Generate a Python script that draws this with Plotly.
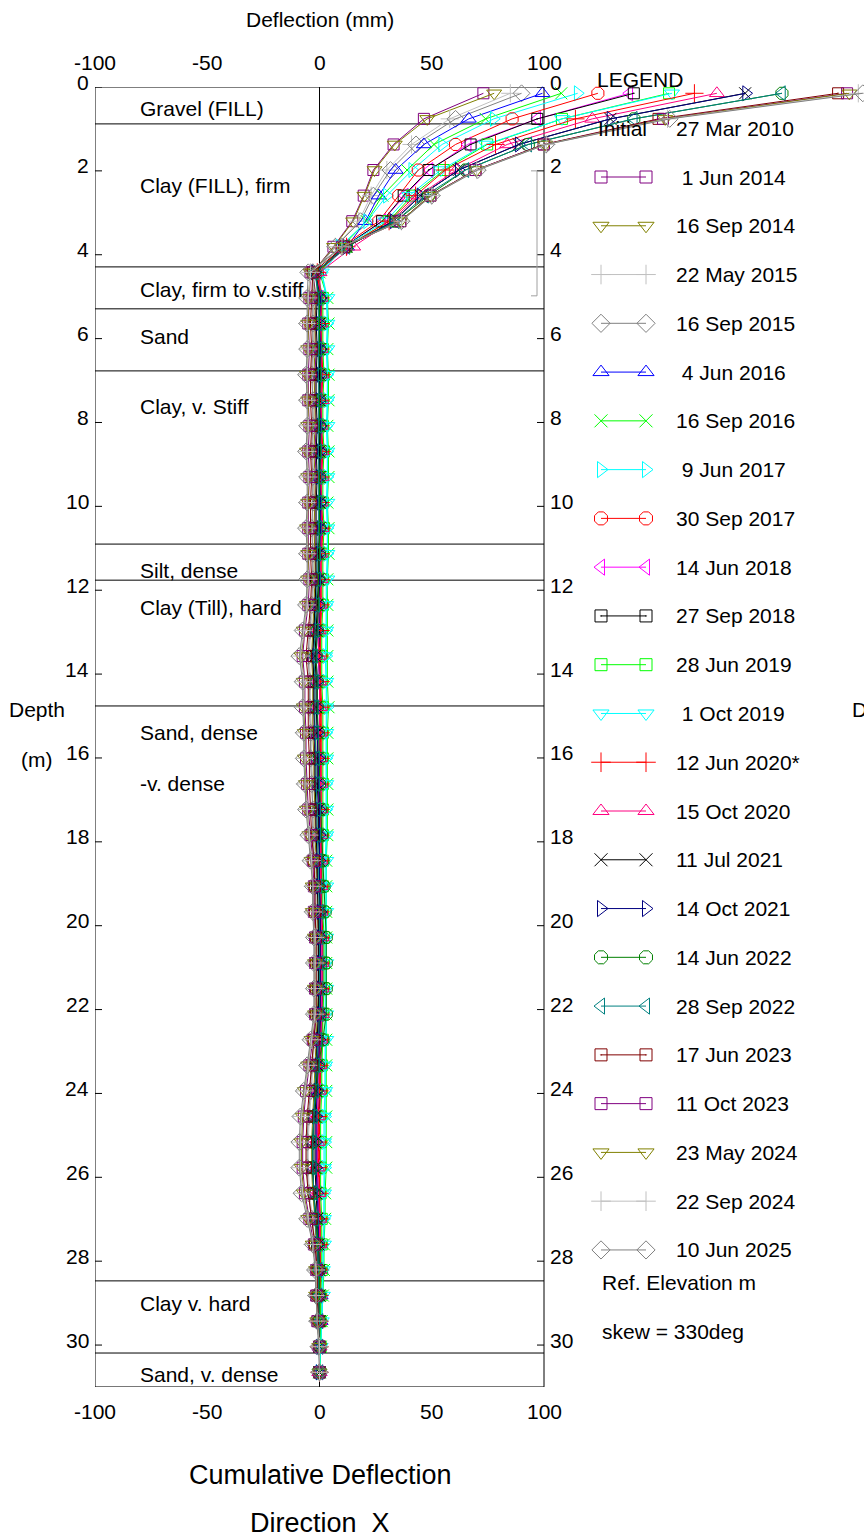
import plotly.graph_objects as go

# ---------------------------------------------------------------- data
depth_m = [0.15, 0.76, 1.37, 1.98, 2.59, 3.20, 3.81, 4.42, 5.03, 5.64,
           6.25, 6.86, 7.47, 8.08, 8.69, 9.30, 9.91, 10.52, 11.13, 11.74,
           12.35, 12.96, 13.57, 14.18, 14.79, 15.40, 16.01, 16.62, 17.23, 17.84,
           18.45, 19.06, 19.67, 20.28, 20.89, 21.50, 22.11, 22.72, 23.33, 23.94,
           24.55, 25.16, 25.77, 26.38, 26.99, 27.60, 28.21, 28.82, 29.43, 30.04,
           30.65]

d_2014_06_01 = [73, 46.5, 33, 24, 19.7, 14.6, 6.2, -3,
                -1.5, -2, -1.5, -2, -2, -1.5, -2, -1.5, -2, -2, -2, -1.5, -2, -2.5, -3,
                -2.5, -2.5, -2.5, -2, -2, -2, -1.5, -1, -1, -1, -0.5, -0.5, -0.5, -0.5, -1,
                -1.5, -2, -2.5, -3, -3, -2.5, -2, -1, -0.5, -0.5, 0, 0, 0]
d_2014_09_16 = [77.8, 48, 33.5, 24.5, 20, 15, 6.5, -3,
                -2, -2, -2, -2.5, -2, -2, -2.5, -2, -2, -2.5, -2, -2, -2.5, -3, -3.5,
                -3, -3, -3, -2.5, -2.5, -2, -2, -1.5, -1, -1, -1, -0.5, -0.5, -1, -1.5,
                -2, -2.5, -3, -3.5, -3.5, -3, -2, -1.5, -1, -0.5, -0.5, 0, 0]
d_2015_05_22 = [85, 58, 41, 30, 23, 17.5, 7, -3,
                -2.5, -3, -2.5, -3, -3, -2.5, -3, -2.5, -3, -3, -3, -2.5, -3, -4, -4.5,
                -4, -4, -3.5, -3.5, -3, -3, -2.5, -2, -1.5, -1.5, -1, -1, -1, -1.5, -2,
                -3, -3.5, -4.5, -5, -5, -4.5, -3, -2, -1, -1, -0.5, 0, 0]
d_2015_09_16 = [90, 60.6, 43, 31.6, 24, 18.3, 7.1, -3,
                -3, -3, -3, -3.5, -3, -3, -3.5, -3, -3, -3.5, -3, -3, -3.5, -4.5, -5,
                -4.5, -4.5, -4, -4, -3.5, -3, -3, -2.5, -2, -2, -1.5, -1.5, -1.5, -1.5, -2.5,
                -3.5, -4, -5, -5.5, -5.5, -5, -3.5, -2, -1, -1, -0.5, 0, 0]
d_2016_06_04 = [99.3, 66.5, 46.5, 33.9, 26.4, 20.5, 12.3, -1,
                1, 0.5, 1, 1, 0.5, 1, 1, 0.5, 1, 1, 0.5, 0.5, 0.5, 0, -0.5,
                0, 0, 0, 0.5, 0.5, 0.5, 1, 1, 1, 1, 1.5, 1.5, 1.5, 1, 1,
                0.5, 0, -0.5, -1, -1, -0.5, 0, 0, 0.5, 0.5, 0.5, 0, 0]
d_2016_09_16 = [107.7, 74, 51, 39, 28, 21, 10, 0,
                3.5, 4, 3.5, 4, 4, 3.5, 4, 4, 3.5, 4, 4, 3.5, 3.5, 3.5, 3.5,
                3.5, 4, 3.5, 3.5, 3.5, 3.5, 3.5, 3, 3, 3, 3, 3, 3, 3, 3,
                3, 3, 3, 3, 3, 2.5, 2.5, 2, 2, 1.5, 1, 0.5, 0]
d_2017_06_09 = [115, 77.6, 54.6, 41.3, 30, 21.2, 9, 1,
                3, 3.5, 3, 3.5, 3.5, 3, 3.5, 3.5, 3, 3.5, 3.5, 3, 3, 3, 3,
                3, 3.5, 3, 3, 3, 3, 3, 2.5, 2.5, 2.5, 2.5, 2.5, 2.5, 2.5, 2.5,
                2.5, 2.5, 2.5, 2.5, 2.5, 2, 2, 1.5, 1.5, 1, 1, 0.5, 0]
d_2017_09_30 = [124, 85.8, 60.6, 44, 35.3, 26.4, 10, -1,
                1, 1, 1, 1.5, 1, 1, 1.5, 1, 1, 1.5, 1, 1, 1, 0.5, 0.5,
                0.5, 1, 1, 1, 1, 1, 1, 1, 1, 1, 1.5, 1.5, 1.5, 1.5, 1,
                0.5, 0.5, 0, 0, 0, 0, 0.5, 0.5, 0.5, 0.5, 0.5, 0, 0]
d_2018_06_14 = [138, 97, 66, 49, 38, 28, 11, -1,
                0, 0, 0, 0.5, 0, 0, 0.5, 0, 0, 0, 0, -0.5, -0.5, -1, -1.5,
                -1, -1, -1, -0.5, -0.5, -0.5, 0, 0, 0, 0.5, 0.5, 0.5, 0.5, 0.5, 0,
                -0.5, -1, -1.5, -1.5, -1.5, -1, -0.5, 0, 0, 0, 0, 0, 0]
d_2018_09_27 = [140, 97, 67.3, 48.6, 37.5, 27.9, 11, -1,
                -1, -1.5, -1, -1.5, -1.5, -1, -1.5, -1, -1.5, -1.5, -1.5, -1.5, -2, -2.5, -3,
                -2.5, -2.5, -2, -2, -2, -1.5, -1.5, -1, -1, -0.5, -0.5, -0.5, -0.5, -0.5, -1,
                -1.5, -2, -2.5, -3, -3, -2.5, -1.5, -1, -0.5, -0.5, 0, 0, 0]
d_2019_06_28 = [155.7, 108, 74.7, 55.4, 41.3, 30.8, 12, -1,
                1.5, 1.5, 1.5, 2, 1.5, 1.5, 2, 1.5, 1.5, 2, 1.5, 1.5, 1.5, 1, 1,
                1, 1.5, 1.5, 1.5, 1.5, 1.5, 1.5, 1.5, 1.5, 1.5, 2, 2, 2, 1.5, 1.5,
                1, 1, 0.5, 0.5, 0.5, 0.5, 1, 1, 1, 0.5, 0.5, 0.5, 0]
d_2019_10_01 = [157, 108, 74, 54, 40, 29.5, 11, 1,
                3.5, 3.5, 3.5, 3.5, 3.5, 3.5, 3.5, 3.5, 3.5, 3.5, 3.5, 3.5, 3, 3, 2.5,
                3, 3, 3, 3, 3, 3, 3, 3, 3, 3, 3, 3, 3, 3, 3,
                2.5, 2.5, 2, 2, 2, 2, 2, 2, 1.5, 1.5, 1, 0.5, 0]
d_2020_06_12 = [167, 114, 78.4, 56, 42.8, 31, 12, -1,
                0.5, 0.5, 0.5, 1, 0.5, 0.5, 1, 0.5, 0.5, 1, 0.5, 0.5, 0.5, 0.5, 0,
                0.5, 0.5, 0.5, 0.5, 0.5, 0.5, 0.5, 0.5, 0.5, 0.5, 0.5, 0.5, 0.5, 0.5, 0.5,
                0, 0, -0.5, -0.5, -0.5, 0, 0, 0, 0, 0, 0, 0, 0]
d_2020_10_15 = [177, 121.5, 83.6, 61, 44, 32, 15, 0,
                0.5, 0.5, 0.5, 1, 1, 0.5, 1, 1, 0.5, 1, 0.5, 0.5, 0, -0.5, -0.5,
                0, 0, 0, 0, 0.5, 0.5, 0.5, 0.5, 0.5, 0.5, 1, 1, 1, 1, 0.5,
                0, -0.5, -1, -1, -1, -0.5, 0, 0, 0, 0, 0, 0, 0]
d_2021_07_11 = [189.6, 129.6, 88.8, 62, 45, 33, 12, -2,
                0, 0, 0, 0, 0, 0, 0, 0, 0, 0, -0.5, -0.5, -1, -1.5, -2,
                -1.5, -1.5, -1, -1, -1, -0.5, -0.5, 0, 0, 0, 0, 0, 0, 0, -0.5,
                -1, -1.5, -2, -2, -2, -1.5, -1, -0.5, 0, 0, 0, 0, 0]
d_2021_10_14 = [190, 129.6, 88.8, 62, 45, 33, 12, -2,
                0.5, 0, 0.5, 0.5, 0, 0.5, 0.5, 0, 0.5, 0.5, 0, 0, -0.5, -1, -1.5,
                -1, -1, -1, -0.5, -0.5, 0, 0, 0, 0, 0.5, 0.5, 0.5, 0.5, 0.5, 0,
                -0.5, -1, -1.5, -1.5, -1.5, -1, -0.5, -0.5, 0, 0, 0, 0, 0]
d_2022_06_14 = [206, 140, 93, 65, 48.6, 33.9, 12, -2,
                0, 0, 0, 0.5, 0, 0, 0.5, 0, 0, 0, 0, -0.5, -0.5, -1, -1.5,
                -1, -1, -0.5, 0, 0, 0.5, 1, 1.5, 2, 2.5, 3, 3, 3, 3, 1.5,
                -0.5, -1.5, -2.5, -3, -3, -2.5, -1.5, -0.5, 0, 0, 0, 0, 0]
d_2022_09_28 = [206, 140, 93, 65, 47, 34, 12, -2,
                -0.5, -0.5, -0.5, -0.5, -0.5, -0.5, -0.5, -0.5, -0.5, -0.5, -1, -1, -1.5, -2, -2.5,
                -2, -2, -2, -1.5, -1.5, -1, -1, -0.5, -0.5, 0, 0, 0, 0, 0, -0.5,
                -1.5, -2, -2.5, -3, -3, -2.5, -2, -1, -0.5, -0.5, 0, 0, 0]
d_2023_06_17 = [231, 151, 99.8, 69.5, 49.4, 36, 11, -3,
                -3.5, -4, -3.5, -4, -4, -3.5, -4, -3.5, -4, -4, -4, -3.5, -4, -5, -6,
                -5, -5, -5, -4.5, -4.5, -4, -3.5, -2.5, -2, -2, -1.5, -1.5, -1.5, -1.5, -2.5,
                -3.5, -4.5, -5.5, -6, -6, -5, -3.5, -2, -1, -1, -0.5, 0, 0]
d_2023_10_11 = [235, 153, 100, 69.5, 49.4, 36, 10, -4,
                -4.5, -5, -4.5, -5, -5, -4.5, -5, -4.5, -5, -5, -5, -4.5, -5, -6.5, -7.5,
                -6.5, -6.5, -6, -6, -5.5, -5, -4, -3, -2.5, -2.5, -2, -2, -2, -2, -3,
                -4.5, -6, -7, -7.5, -7.5, -6.5, -4.5, -2.5, -1.5, -1.5, -1, 0, 0]
d_2024_05_23 = [236, 154, 100.5, 70, 49.5, 36, 10, -4,
                -5, -5, -5, -5.5, -5, -5, -5.5, -5, -5, -5.5, -5, -5, -5.5, -7, -8,
                -7, -7, -6.5, -6.5, -6, -5.5, -4.5, -3.5, -3, -3, -2, -2, -2, -2, -3.5,
                -5, -6.5, -7.5, -8, -8, -7, -5, -3, -1.5, -1.5, -1, 0, 0]
d_2024_09_22 = [240, 155, 101, 70, 50, 36.5, 10, -4,
                -5, -5.5, -5, -5.5, -5.5, -5, -5.5, -5, -5.5, -5.5, -5.5, -5, -5.5, -7, -8.5,
                -7, -7, -7, -6.5, -6.5, -5.5, -4.5, -3.5, -3, -3, -2, -2, -2, -2, -3.5,
                -5, -6.5, -8, -8.5, -8.5, -7.5, -5, -3, -1.5, -1.5, -1, 0, 0]
d_2025_06_10 = [242, 156, 101, 70.5, 50, 36.5, 10, -5,
                -5.5, -5.5, -5.5, -6, -5.5, -5.5, -6, -5.5, -5.5, -6, -5.5, -5.5, -6, -7.5, -9,
                -7.5, -7.5, -7, -7, -6.5, -6, -5, -4, -3, -3, -2.5, -2.5, -2.5, -2.5, -4,
                -5.5, -7, -8.5, -9, -9, -8, -5.5, -3, -2, -1.5, -1, -0.5, 0]

series_labels = ["\u00a01 Jun 2014", "16 Sep 2014", "22 May 2015", "16 Sep 2015",
                 "\u00a04 Jun 2016", "16 Sep 2016", "\u00a09 Jun 2017", "30 Sep 2017",
                 "14 Jun 2018", "27 Sep 2018", "28 Jun 2019", "\u00a01 Oct 2019",
                 "12 Jun 2020*", "15 Oct 2020", "11 Jul 2021", "14 Oct 2021",
                 "14 Jun 2022", "28 Sep 2022", "17 Jun 2023", "11 Oct 2023",
                 "23 May 2024", "22 Sep 2024", "10 Jun 2025"]
series_values = [d_2014_06_01, d_2014_09_16, d_2015_05_22, d_2015_09_16,
                 d_2016_06_04, d_2016_09_16, d_2017_06_09, d_2017_09_30,
                 d_2018_06_14, d_2018_09_27, d_2019_06_28, d_2019_10_01,
                 d_2020_06_12, d_2020_10_15, d_2021_07_11, d_2021_10_14,
                 d_2022_06_14, d_2022_09_28, d_2023_06_17, d_2023_10_11,
                 d_2024_05_23, d_2024_09_22, d_2025_06_10]
series_colors = ["#800080", "#808000", "#c0c0c0", "#808080",
                 "#0000ff", "#00ff00", "#00ffff", "#ff0000",
                 "#ff00ff", "#000000", "#00ff00", "#00ffff",
                 "#ff0000", "#ff0080", "#000000", "#000080",
                 "#008000", "#008080", "#800000", "#800080",
                 "#808000", "#c0c0c0", "#808080"]
series_symbols = ["square-open", "triangle-down-open", "cross-thin-open", "diamond-open",
                  "triangle-up-open", "x-thin-open", "triangle-right-open", "octagon-open",
                  "triangle-left-open", "square-open-dot", "square-open", "triangle-down-open",
                  "cross-thin-open", "triangle-up-open", "x-thin-open", "triangle-right-open",
                  "octagon-open", "triangle-left-open", "square-open-dot", "square-open",
                  "triangle-down-open", "cross-thin-open", "diamond-open"]
symbol_sizes = {"square-open": 11, "square-open-dot": 11, "triangle-down-open": 13,
                "triangle-up-open": 13, "triangle-left-open": 13, "triangle-right-open": 13,
                "cross-thin-open": 13, "x-thin-open": 12, "diamond-open": 13,
                "octagon-open": 13}

# soil log
layer_bottoms_m = [0.88, 4.29, 5.29, 6.77, 10.90, 11.76, 14.76, 28.47, 30.19]
layer_names = ["Gravel (FILL)", "Clay (FILL), firm", "Clay, firm to v.stiff", "Sand",
               "Clay, v. Stiff", "Silt, dense", "Clay (Till), hard", "Sand, dense",
               "-v. dense", "Clay v. hard", "Sand, v. dense"]
layer_name_depths_m = [0.52, 2.34, 4.84, 5.94, 7.63, 11.54, 12.42, 15.40, 16.62, 29.02, 30.71]

depth_ticks = list(range(0, 31, 2))
defl_ticks = [-100, -50, 0, 50, 100]
ref_bracket_m = [2.0, 4.98]

# ---------------------------------------------------------------- layout constants
W, H = 864, 1539
FONT = "Liberation Sans, Arial, sans-serif"
LEFT_PX, TOP_PX = 95, 87
PX_PER_MM = (544 - LEFT_PX) / 200.0
X_MAX = -100 + (W - LEFT_PX) / PX_PER_MM
DEPTH_MAX = 31.0
PX_PER_M = 41.935
FS = 21


def px_x(mm):
    return LEFT_PX + (mm + 100) * PX_PER_MM


def px_y(depth):
    return TOP_PX + depth * PX_PER_M


fig = go.Figure()

# ---------------------------------------------------------------- profiles
for vals, name, col, sym in zip(series_values, series_labels, series_colors, series_symbols):
    fig.add_trace(go.Scatter(
        x=vals, y=depth_m, mode="lines+markers", name=name.strip(),
        line=dict(color=col, width=1),
        marker=dict(symbol=sym, size=symbol_sizes[sym], color=col,
                    line=dict(color=col, width=1)),
        cliponaxis=False, showlegend=False, xaxis="x", yaxis="y"))

shapes = []
# frame and zero line
shapes.append(dict(type="rect", xref="x", yref="y", x0=-100, x1=100, y0=0, y1=DEPTH_MAX,
                   line=dict(color="black", width=1), layer="below"))
shapes.append(dict(type="line", xref="x", yref="y", x0=0, x1=0, y0=0, y1=DEPTH_MAX,
                   line=dict(color="black", width=1), layer="below"))
# layer boundaries
for d in layer_bottoms_m:
    shapes.append(dict(type="line", xref="x", yref="y", x0=-100, x1=100, y0=d, y1=d,
                       line=dict(color="black", width=1), layer="below"))
# depth ticks on both sides
tick_len = 7 / PX_PER_MM
for d in depth_ticks:
    shapes.append(dict(type="line", xref="x", yref="y", x0=-100, x1=-100 + tick_len, y0=d, y1=d,
                       line=dict(color="black", width=1)))
    shapes.append(dict(type="line", xref="x", yref="y", x0=100 - tick_len, x1=100, y0=d, y1=d,
                       line=dict(color="black", width=1)))
# reference elevation bracket
bx = 100 - tick_len
stub = 6 / PX_PER_MM
shapes.append(dict(type="path", xref="x", yref="y",
                   path=f"M {bx - stub} {ref_bracket_m[0]} L {bx} {ref_bracket_m[0]} "
                        f"L {bx} {ref_bracket_m[1]} L {bx - stub} {ref_bracket_m[1]}",
                   line=dict(color="#a0a0a0", width=1)))

annotations = []


def pix_text(x, y, text, size=FS, anchor="left"):
    annotations.append(dict(xref="x2", yref="y2", x=x, y=y, text=text, showarrow=False,
                            xanchor=anchor, yanchor="middle", borderpad=0,
                            font=dict(size=size, color="black", family=FONT)))


# axis numbers (placed through the axis scales, drawn on the page layer)
for d in depth_ticks:
    pix_text(px_x(-100) - 5, px_y(d) - 5, str(d), anchor="right")
    pix_text(px_x(100) + 5, px_y(d) - 5, str(d), anchor="left")
for v in defl_ticks:
    pix_text(px_x(v), px_y(0) - 25, str(v), anchor="center")
    pix_text(px_x(v), px_y(DEPTH_MAX) + 25, str(v), anchor="center")
for name, d in zip(layer_names, layer_name_depths_m):
    pix_text(px_x(-80) - 1, px_y(d), name, anchor="left")

pix_text(320, 19, "Deflection (mm)", anchor="center")
pix_text(596, 79, "LEGEND")
pix_text(597, 128, "Initial")
pix_text(675, 128, "27 Mar 2010")
pix_text(601, 1282, "Ref. Elevation m")
pix_text(601, 1331, "skew = 330deg")
pix_text(8, 709, "Depth")
pix_text(20, 759, "(m)")
pix_text(851, 709, "Depth")
pix_text(320, 1475, "Cumulative Deflection", size=27, anchor="center")
pix_text(320, 1523, "Direction\u00a0\u00a0X", size=27, anchor="center")

# legend rows
LEG_Y0, LEG_DY = 177, 48.77
for i, (name, col, sym) in enumerate(zip(series_labels, series_colors, series_symbols)):
    y = LEG_Y0 + i * LEG_DY
    fig.add_trace(go.Scatter(
        x=[601, 646], y=[y, y], mode="lines+markers",
        line=dict(color=col, width=1),
        marker=dict(symbol=sym, size=symbol_sizes[sym] + 1, color=col,
                    line=dict(color=col, width=1)),
        showlegend=False, hoverinfo="skip", xaxis="x2", yaxis="y2", cliponaxis=False))
    pix_text(675, y, name)

fig.update_layout(
    width=W, height=H,
    margin=dict(l=0, r=0, t=0, b=0),
    paper_bgcolor="white", plot_bgcolor="rgba(0,0,0,0)",
    showlegend=False,
    xaxis=dict(domain=[LEFT_PX / W, 1], range=[-100, X_MAX], visible=False, anchor="y"),
    yaxis=dict(domain=[(H - TOP_PX - DEPTH_MAX * PX_PER_M) / H, (H - TOP_PX) / H],
               range=[DEPTH_MAX, 0], visible=False, anchor="x"),
    xaxis2=dict(domain=[0, 1], range=[0, W], visible=False, anchor="y2"),
    yaxis2=dict(domain=[0, 1], range=[H, 0], visible=False, anchor="x2"),
    shapes=shapes, annotations=annotations,
    font=dict(family=FONT, color="black"),
)

fig.write_html("out.html")
